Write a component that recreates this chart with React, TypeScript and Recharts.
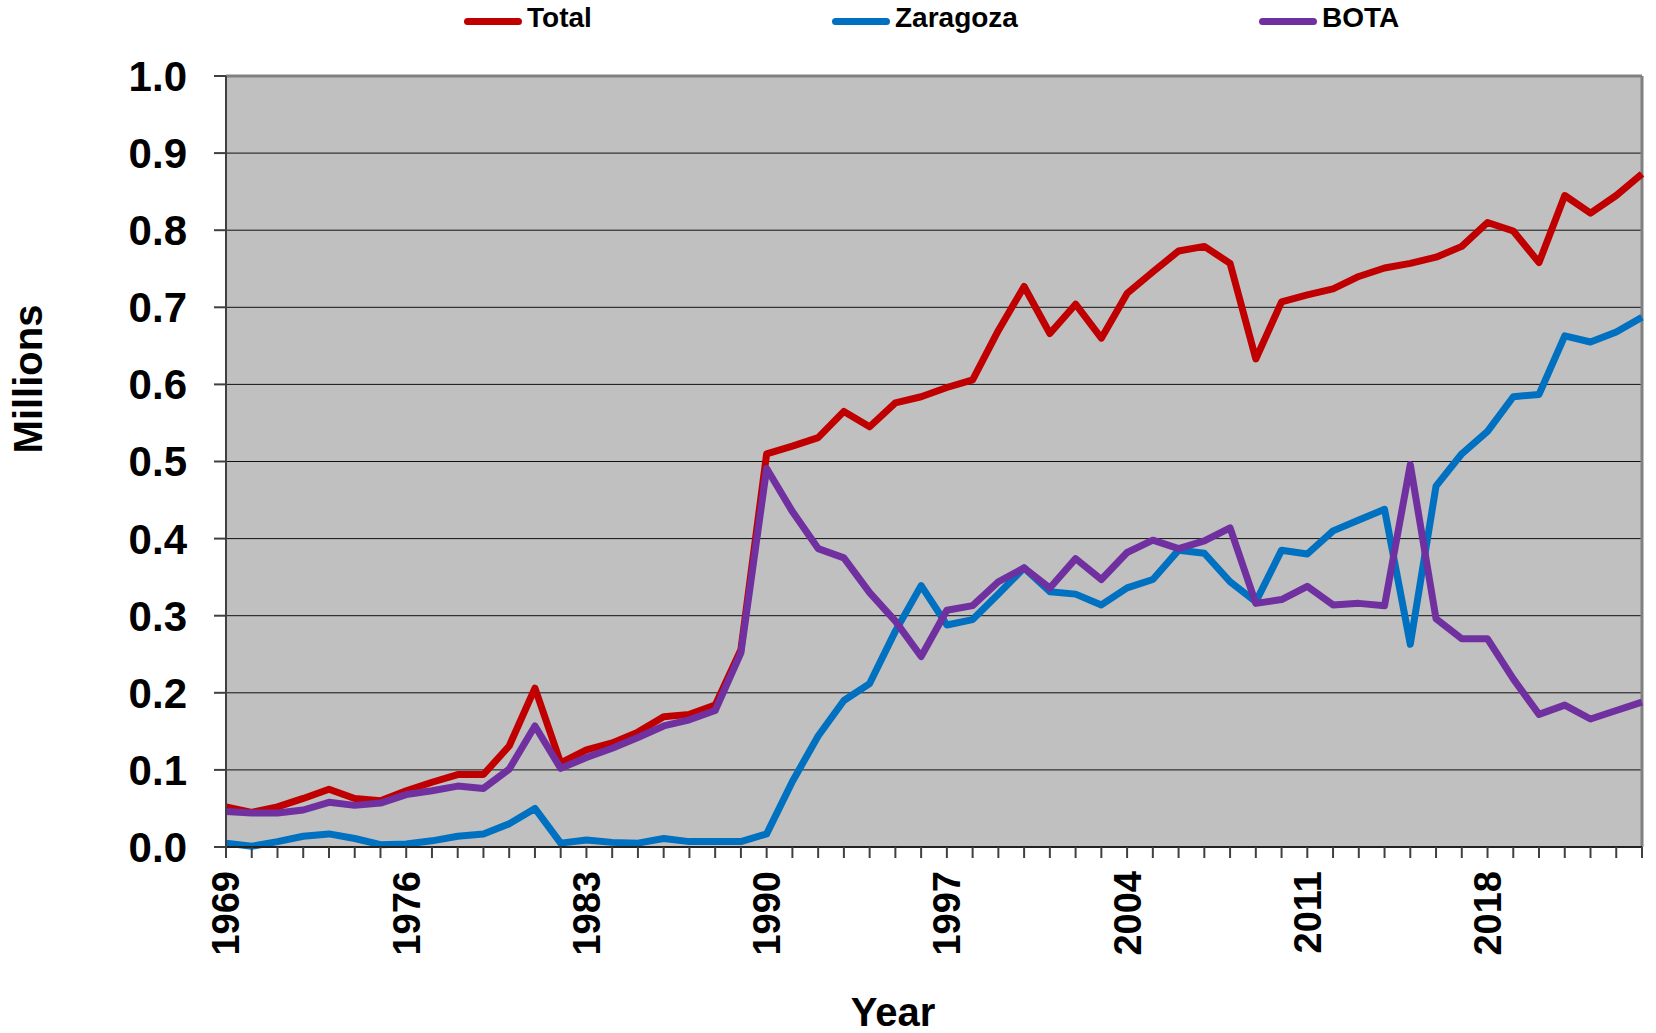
import {
  LineChart,
  Line,
  XAxis,
  YAxis,
  CartesianGrid,
  Legend,
  Label,
  ReferenceLine
} from 'recharts';

const years = [
  1969, 1970, 1971, 1972, 1973, 1974, 1975, 1976, 1977, 1978, 1979, 1980, 1981, 1982,
  1983, 1984, 1985, 1986, 1987, 1988, 1989, 1990, 1991, 1992, 1993, 1994, 1995, 1996,
  1997, 1998, 1999, 2000, 2001, 2002, 2003, 2004, 2005, 2006, 2007, 2008, 2009, 2010,
  2011, 2012, 2013, 2014, 2015, 2016, 2017, 2018, 2019, 2020, 2021, 2022, 2023, 2024
];

const total = [
  0.052, 0.045, 0.052, 0.063, 0.075, 0.063, 0.06, 0.073, 0.084, 0.094, 0.094, 0.131, 0.206, 0.109,
  0.126, 0.135, 0.149, 0.169, 0.172, 0.184, 0.256, 0.51, 0.52, 0.531, 0.565, 0.545, 0.576, 0.584,
  0.596, 0.606, 0.67, 0.727, 0.666, 0.704, 0.66, 0.718, 0.746, 0.773, 0.779, 0.757, 0.633, 0.707,
  0.716, 0.724, 0.74, 0.751, 0.757, 0.765, 0.779, 0.81, 0.799, 0.758, 0.845, 0.822, 0.845, 0.873
];

const zaragoza = [
  0.005, 0.001, 0.007, 0.014, 0.017, 0.011, 0.003, 0.004, 0.008, 0.014, 0.017, 0.03, 0.05, 0.005,
  0.009, 0.006, 0.005, 0.011, 0.007, 0.007, 0.007, 0.017, 0.085, 0.144, 0.19, 0.212, 0.28, 0.339,
  0.288, 0.295, 0.328, 0.362, 0.331, 0.328, 0.314, 0.336, 0.347, 0.385, 0.381, 0.344, 0.318, 0.385,
  0.38, 0.41, 0.424, 0.438, 0.263, 0.468, 0.51, 0.539, 0.584, 0.587, 0.663, 0.655, 0.668, 0.687
];

const bota = [
  0.046, 0.044, 0.044, 0.048, 0.058, 0.054, 0.057, 0.068, 0.073, 0.079, 0.076, 0.101, 0.157, 0.102,
  0.116, 0.128, 0.142, 0.157, 0.165, 0.177, 0.252, 0.491, 0.435, 0.387, 0.375, 0.33, 0.293, 0.247,
  0.307, 0.313, 0.344, 0.362, 0.336, 0.374, 0.347, 0.382, 0.398, 0.387, 0.397, 0.414, 0.316, 0.321,
  0.338, 0.314, 0.316, 0.313, 0.496, 0.296, 0.27, 0.27, 0.218, 0.172, 0.184, 0.166, 0.177, 0.188
];

const yTicks = [0, 0.1, 0.2, 0.3, 0.4, 0.5, 0.6, 0.7, 0.8, 0.9, 1.0];
const yearLabels = [1969, 1976, 1983, 1990, 1997, 2004, 2011, 2018];

const series = [
  { key: 'total', name: 'Total', color: '#C00000' },
  { key: 'zaragoza', name: 'Zaragoza', color: '#0070C0' },
  { key: 'bota', name: 'BOTA', color: '#7030A0' }
];

const data = years.map((year, i) => ({
  year,
  total: total[i],
  zaragoza: zaragoza[i],
  bota: bota[i]
}));

const FONT = '"Liberation Sans", Arial, sans-serif';

function LegendBox() {
  const lefts = [464, 832, 1259];
  return (
    <div style={{ position: 'relative', width: 1642, height: 76 }}>
      {series.map((s, i) => (
        <div
          key={s.key}
          style={{
            position: 'absolute',
            left: lefts[i],
            top: 5,
            height: 32,
            display: 'flex',
            alignItems: 'center'
          }}
        >
          <span
            style={{
              display: 'inline-block',
              width: 58,
              height: 7,
              borderRadius: 4,
              background: s.color
            }}
          />
          <span
            style={{
              marginLeft: 5,
              position: 'relative',
              top: -3,
              font: `bold 28px ${FONT}`,
              color: '#000'
            }}
          >
            {s.name}
          </span>
        </div>
      ))}
    </div>
  );
}

function YearTick(props: any) {
  const { x, y, payload } = props;
  if (!yearLabels.includes(payload.value)) return null;
  return (
    <text
      x={x}
      y={y}
      transform={`rotate(-90, ${x}, ${y})`}
      textAnchor="end"
      dy="0.355em"
      fontSize={38}
      fontWeight="bold"
      fontFamily={FONT}
      fill="#000"
    >
      {payload.value}
    </text>
  );
}

export default function App() {
  return (
    <div style={{ position: 'absolute', left: 0, top: 0, width: 1656, height: 1033, background: '#fff' }}>
      <LineChart
        width={1656}
        height={1033}
        data={data}
        margin={{ top: 0, right: 14, bottom: 0, left: 0 }}
      >
        <CartesianGrid vertical={false} fill="#C0C0C0" stroke="#111" strokeWidth={1} />
        <XAxis
          dataKey="year"
          interval={0}
          height={186}
          tickSize={11}
          tickMargin={13}
          tick={<YearTick />}
          axisLine={{ stroke: '#222', strokeWidth: 2 }}
          tickLine={{ stroke: '#404040', strokeWidth: 2 }}
        >
          <Label
            content={() => (
              <text
                x={893}
                y={1026}
                textAnchor="middle"
                fontSize={40}
                fontWeight="bold"
                fontFamily={FONT}
                fill="#000"
              >
                Year
              </text>
            )}
          />
        </XAxis>
        <YAxis
          type="number"
          domain={[0, 1]}
          ticks={yTicks}
          interval={0}
          width={226}
          tickSize={12}
          tickMargin={27}
          tickFormatter={(v: number) => v.toFixed(1)}
          tick={{ fontSize: 42, fontWeight: 'bold', fill: '#000', fontFamily: FONT }}
          axisLine={{ stroke: '#404040', strokeWidth: 2 }}
          tickLine={{ stroke: '#404040', strokeWidth: 2 }}
        >
          <Label
            content={() => (
              <text
                x={42}
                y={379}
                transform="rotate(-90, 42, 379)"
                textAnchor="middle"
                fontSize={40}
                fontWeight="bold"
                fontFamily={FONT}
                fill="#000"
              >
                Millions
              </text>
            )}
          />
        </YAxis>
        <ReferenceLine y={1} stroke="#808080" strokeWidth={3} />
        <ReferenceLine x={2024} stroke="#808080" strokeWidth={3} />
        <Legend
          verticalAlign="top"
          align="left"
          wrapperStyle={{ left: 0, top: 0 }}
          content={() => <LegendBox />}
        />
        {series.map((s) => (
          <Line
            key={s.key}
            type="linear"
            dataKey={s.key}
            name={s.name}
            stroke={s.color}
            strokeWidth={7}
            strokeLinejoin="round"
            dot={false}
            activeDot={false}
            isAnimationActive={false}
          />
        ))}
      </LineChart>
    </div>
  );
}
